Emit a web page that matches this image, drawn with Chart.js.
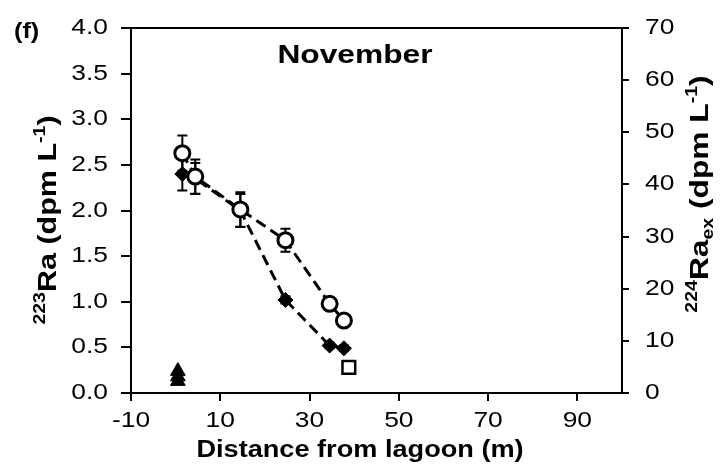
<!DOCTYPE html>
<html>
<head>
<meta charset="utf-8">
<script src="https://cdn.jsdelivr.net/npm/chart.js@4"></script>
<style>
  html, body { margin: 0; padding: 0; background: #fff; }
  #wrap { width: 720px; height: 476px; }
</style>
</head>
<body>
<div id="wrap"><canvas id="raChart" width="720" height="476"></canvas></div>
<script>
// distance from lagoon (m)
const distances = [1.5, 4.4, 14.5, 24.6, 34.5, 37.7];
// 223Ra (dpm/L), left axis
const ra223 = [2.40, 2.35, 2.00, 1.02, 0.52, 0.49];
const ra223Err = [0.18, 0.17, 0.18, 0.04, 0.03, 0.03];
// 224Ra ex (dpm/L), right axis
const ra224 = [46.0, 41.5, 35.2, 29.3, 17.1, 13.9];
const ra224Err = [3.4, 3.3, 3.3, 2.2, 1.2, 0.8];
// lagoon samples (triangles) and end point (square), left axis
const lagoonX = [0.5, 0.5, 0.5];
const lagoonRa = [0.24, 0.18, 0.13];
const endX = [38.8];
const endRa = [0.28];

const xTicks = [-10, 10, 30, 50, 70, 90];

const FONT = '"Liberation Sans", Arial, sans-serif';
const SX = 1.2; // the figure's lettering runs a bit wide

function pts(xs, ys) {
  return xs.map((x, i) => ({ x: x, y: ys[i] }));
}

function wideText(ctx, text, x, y, align, font, sx) {
  ctx.save();
  ctx.translate(x, y);
  ctx.scale(sx, 1);
  ctx.font = font;
  ctx.fillStyle = '#000';
  ctx.textAlign = align;
  ctx.textBaseline = 'middle';
  ctx.fillText(text, 0, 0);
  ctx.restore();
}

// error bars, drawn below the markers
const errorBars = {
  id: 'errorBars',
  beforeDatasetsDraw(chart) {
    const ctx = chart.ctx;
    const xs = chart.scales.x;
    const sets = [
      { y: chart.scales.yL, vals: ra223, err: ra223Err },
      { y: chart.scales.yR, vals: ra224, err: ra224Err }
    ];
    ctx.save();
    ctx.strokeStyle = '#000';
    ctx.lineWidth = 2;
    sets.forEach(s => {
      distances.forEach((d, i) => {
        const px = xs.getPixelForValue(d);
        const top = s.y.getPixelForValue(s.vals[i] + s.err[i]);
        const bot = s.y.getPixelForValue(s.vals[i] - s.err[i]);
        ctx.beginPath();
        ctx.moveTo(px, top); ctx.lineTo(px, bot);
        ctx.moveTo(px - 5, top); ctx.lineTo(px + 5, top);
        ctx.moveTo(px - 5, bot); ctx.lineTo(px + 5, bot);
        ctx.stroke();
      });
    });
    ctx.restore();
  }
};

// text with superscripts / subscripts, rotated
function richText(ctx, parts, x, y, rot, size, sx) {
  const small = Math.round(size * 0.62);
  ctx.save();
  ctx.translate(x, y);
  ctx.rotate(rot);
  ctx.scale(sx, 1);
  let w = 0;
  parts.forEach(p => {
    ctx.font = 'bold ' + (p.s ? small : size) + 'px ' + FONT;
    p.w = ctx.measureText(p.t).width;
    w += p.w;
  });
  let cx = -w / 2;
  ctx.fillStyle = '#000';
  ctx.textBaseline = 'alphabetic';
  parts.forEach(p => {
    ctx.font = 'bold ' + (p.s ? small : size) + 'px ' + FONT;
    let dy = size * 0.35;
    if (p.s === 'sup') dy -= size * 0.42;
    if (p.s === 'sub') dy += size * 0.2;
    ctx.fillText(p.t, cx, dy);
    cx += p.w;
  });
  ctx.restore();
}

const frameAndTitles = {
  id: 'frameAndTitles',
  afterDraw(chart) {
    const ctx = chart.ctx;
    const a = chart.chartArea;
    const { x, yL, yR } = chart.scales;
    ctx.save();
    ctx.strokeStyle = '#000';
    ctx.lineWidth = 2;
    ctx.beginPath();
    ctx.moveTo(a.left, a.top);
    ctx.lineTo(a.right, a.top);
    ctx.stroke();
    ctx.restore();

    // tick labels
    const tf = '22px ' + FONT;
    yL.ticks.forEach(t => {
      wideText(ctx, t.value.toFixed(1), 108, yL.getPixelForValue(t.value), 'right', tf, SX);
    });
    yR.ticks.forEach(t => {
      wideText(ctx, String(t.value), 645, yR.getPixelForValue(t.value), 'left', tf, SX);
    });
    x.ticks.forEach(t => {
      wideText(ctx, String(t.value), x.getPixelForValue(t.value), 421, 'center', tf, SX);
    });

    wideText(ctx, 'November', 355, 56, 'center', 'bold 26px ' + FONT, 1.22);
    wideText(ctx, 'Distance from lagoon (m)', 360, 451, 'center', 'bold 23px ' + FONT, 1.18);
    wideText(ctx, '(f)', 14, 32, 'left', 'bold 22px ' + FONT, 1.15);

    richText(ctx, [
      { t: '223', s: 'sup' }, { t: 'Ra (dpm L' }, { t: '-1', s: 'sup' }, { t: ')' }
    ], 47, 220, -Math.PI / 2, 25, 1.22);
    richText(ctx, [
      { t: '224', s: 'sup' }, { t: 'Ra' }, { t: 'ex', s: 'sub' }, { t: ' (dpm L' },
      { t: '-1', s: 'sup' }, { t: ')' }
    ], 699, 194, -Math.PI / 2, 26, 1.22);
  }
};

const axisGrid = { drawOnChartArea: false, drawTicks: true, color: '#000', lineWidth: 2 };
const axisBorder = { color: '#000', width: 2 };

new Chart(document.getElementById('raChart').getContext('2d'), {
  type: 'scatter',
  data: {
    datasets: [
      {
        label: '223Ra',
        data: pts(distances, ra223),
        yAxisID: 'yL',
        order: 1,
        showLine: true,
        borderColor: '#000',
        borderWidth: 3,
        borderDash: [11, 6],
        pointStyle: 'rectRot',
        pointRadius: 7.5,
        pointBackgroundColor: '#000',
        pointBorderColor: '#000',
        pointBorderWidth: 1
      },
      {
        label: '224Raex',
        data: pts(distances, ra224),
        yAxisID: 'yR',
        order: 0,
        showLine: true,
        borderColor: '#000',
        borderWidth: 3,
        borderDash: [11, 6],
        pointStyle: 'circle',
        pointRadius: 7.5,
        pointBackgroundColor: '#fff',
        pointBorderColor: '#000',
        pointBorderWidth: 3
      },
      {
        label: 'lagoon',
        data: pts(lagoonX, lagoonRa),
        yAxisID: 'yL',
        order: 2,
        showLine: false,
        pointStyle: 'triangle',
        pointRadius: 8.5,
        pointBackgroundColor: '#000',
        pointBorderColor: '#000'
      },
      {
        label: 'end',
        data: pts(endX, endRa),
        yAxisID: 'yL',
        order: 2,
        showLine: false,
        pointStyle: 'rect',
        pointRadius: 9,
        pointBackgroundColor: '#fff',
        pointBorderColor: '#000',
        pointBorderWidth: 2.5
      }
    ]
  },
  options: {
    responsive: false,
    animation: false,
    layout: { padding: { top: 28, left: 0, right: 0, bottom: 0 } },
    plugins: { legend: { display: false }, tooltip: { enabled: false } },
    scales: {
      x: {
        type: 'linear',
        min: -10,
        max: 100,
        afterBuildTicks: s => { s.ticks = xTicks.map(v => ({ value: v })); },
        afterFit: s => { s.height = 83; },
        ticks: { display: false },
        grid: { ...axisGrid, tickLength: 8 },
        border: axisBorder
      },
      yL: {
        type: 'linear',
        position: 'left',
        min: 0,
        max: 4,
        afterFit: s => { s.width = 131; },
        ticks: { display: false, stepSize: 0.5 },
        grid: { ...axisGrid, tickLength: 10 },
        border: axisBorder
      },
      yR: {
        type: 'linear',
        position: 'right',
        min: 0,
        max: 70,
        afterFit: s => { s.width = 98; },
        ticks: { display: false, stepSize: 10 },
        grid: { ...axisGrid, tickLength: 7 },
        border: axisBorder
      }
    }
  },
  plugins: [errorBars, frameAndTitles]
});
</script>
</body>
</html>
